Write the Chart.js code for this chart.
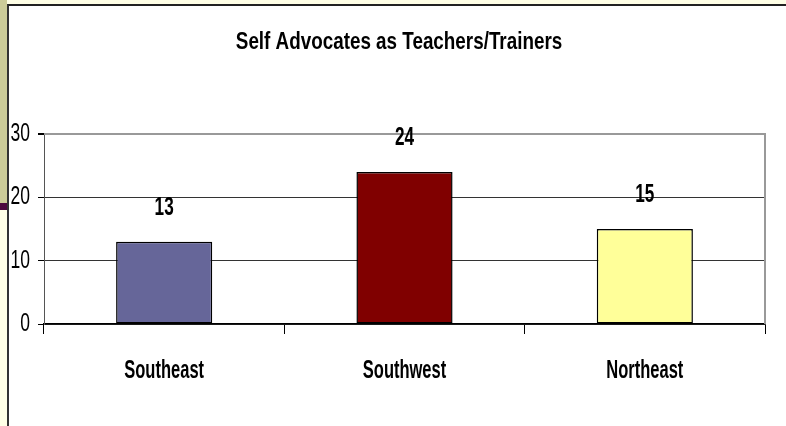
<!DOCTYPE html>
<html>
<head>
<meta charset="utf-8">
<script src="https://cdn.jsdelivr.net/npm/chart.js@4.4.1/dist/chart.umd.min.js"></script>
<style>
  html, body { margin: 0; padding: 0; width: 786px; height: 426px; overflow: hidden; background: #fffff0; }
  #stripTop { position: absolute; left: 0; top: 0; width: 7px; height: 203px; background: #cccc99; }
  #stripBand { position: absolute; left: 0; top: 203px; width: 7px; height: 7px; background: #4d0a3f; }
  #stripLow { position: absolute; left: 0; top: 210px; width: 7px; height: 216px; background: #ffffe6; }
  #topBand { position: absolute; left: 7px; top: 0; width: 779px; height: 4px; background: #ffffe6; }
  #frame { position: absolute; left: 7px; top: 4px; width: 779px; height: 422px; background: #fff;
           border-left: 2px solid #333; border-top: 2px solid #222; box-sizing: border-box; }
  #wrap { position: absolute; left: 8px; top: 6px; width: 778px; height: 420px; }
</style>
</head>
<body>
<div id="stripTop"></div><div id="stripBand"></div><div id="stripLow"></div>
<div id="topBand"></div>
<div id="frame"></div>
<div id="wrap"><canvas id="c" width="778" height="420"></canvas></div>
<script>
const chartTitle = 'Self Advocates as Teachers/Trainers';
const regions = ['Southeast', 'Southwest', 'Northeast'];
const counts = [13, 24, 15];
const barColors = ['#666699', '#800000', '#ffff99'];
const yMax = 30;

const FONT = '"Liberation Sans", Arial, sans-serif';

// the original text is a very condensed face, so squeeze Liberation Sans sideways
function squashText(ctx, text, x, y, sx, font, align) {
  ctx.save();
  ctx.translate(x, y);
  ctx.scale(sx, 1);
  ctx.font = font;
  ctx.textAlign = align;
  ctx.textBaseline = 'middle';
  ctx.fillStyle = '#000';
  ctx.fillText(text, 0, 0);
  ctx.restore();
}

const frameAndLabels = {
  id: 'frameAndLabels',
  afterDatasetsDraw(chart) {
    const { ctx, chartArea: a, scales } = chart;
    ctx.save();
    // grey plot border on top and right
    ctx.strokeStyle = '#999';
    ctx.lineWidth = 2;
    ctx.beginPath();
    ctx.moveTo(a.left, a.top);
    ctx.lineTo(a.right, a.top);
    ctx.lineTo(a.right, a.bottom);
    ctx.stroke();
    ctx.restore();

    // value above each bar
    chart.getDatasetMeta(0).data.forEach((bar, i) => {
      squashText(ctx, String(counts[i]), bar.x, bar.y - 34, 0.66, `bold 26px ${FONT}`, 'center');
    });

    // y tick labels
    scales.y.ticks.forEach((t, i) => {
      squashText(ctx, String(t.value), a.left - 14, scales.y.getPixelForTick(i), 0.7, `25px ${FONT}`, 'right');
    });

    // category labels
    regions.forEach((r, i) => {
      squashText(ctx, r, scales.x.getPixelForTick(i), a.bottom + 47, 0.66, `bold 25px ${FONT}`, 'center');
    });

    // title
    squashText(ctx, chartTitle, 391, 36, 0.785, `bold 24px ${FONT}`, 'center');
  },
};

new Chart(document.getElementById('c'), {
  type: 'bar',
  data: {
    labels: regions,
    datasets: [{
      data: counts,
      backgroundColor: barColors,
      borderColor: '#000',
      borderWidth: 1.5,
      borderSkipped: false,
      categoryPercentage: 1,
      barPercentage: 0.4,
    }],
  },
  options: {
    responsive: false,
    animation: false,
    events: [],
    layout: { padding: { top: 128, right: 21, left: 0, bottom: 0 } },
    plugins: { legend: { display: false }, title: { display: false }, tooltip: { enabled: false } },
    scales: {
      x: {
        offset: true,
        grid: { offset: true, drawOnChartArea: false, drawTicks: true, tickLength: 10, color: '#000', lineWidth: 1 },
        border: { color: '#000', width: 1.5 },
        ticks: { display: false },
        afterFit(s) { s.height = 102; },
      },
      y: {
        min: 0,
        max: yMax,
        ticks: { stepSize: 10, display: false },
        grid: {
          color: c => (c.tick && c.tick.value === yMax ? '#999' : '#333'),
          lineWidth: c => (c.tick && c.tick.value === yMax ? 2 : 1),
          tickLength: 6,
          tickColor: '#000',
        },
        border: { color: '#555', width: 1 },
        afterFit(s) { s.width = 36; },
      },
    },
  },
  plugins: [frameAndLabels],
});
</script>
</body>
</html>
